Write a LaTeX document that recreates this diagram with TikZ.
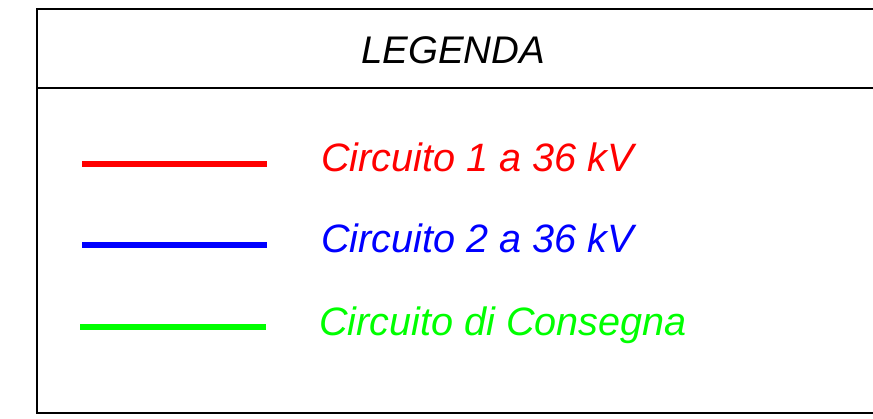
\documentclass[tikz,border=0pt]{standalone}
\usepackage{fontspec}
\setmainfont{Liberation Sans}
\usepackage{tikz}
\usetikzlibrary{calc}

\definecolor{cred}{RGB}{255,0,0}
\definecolor{cblue}{RGB}{0,0,255}
\definecolor{cgreen}{RGB}{0,255,0}

\tikzset{
    legtext/.style={anchor=base west, inner sep=0pt, font=\fontsize{39.6bp}{44bp}\selectfont\itshape},
    legtitle/.style={anchor=base, inner sep=0pt, font=\fontsize{38.5bp}{44bp}\selectfont\itshape},
    legline/.style={line width=6bp}
}

\begin{document}
\begin{tikzpicture}[x=1bp, y=-1bp]
            \useasboundingbox (0,0) rectangle (873,418);
            \draw[black, line width=2bp] (37,9) rectangle (885,413);
            \draw[black, line width=2bp] (37,88) -- (885,88);

            \node[legtitle] (title) at (453,63) {LEGENDA};

            \coordinate (a1) at (82,164);
            \coordinate (a2) at (267,164);
            \coordinate (b1) at (82,245);
            \coordinate (b2) at (267,245);
            \coordinate (c1) at (80,327);
            \coordinate (c2) at (266,327);
            \draw[legline, cred] (a1) -- (a2);
            \draw[legline, cblue] (b1) -- (b2);
            \draw[legline, cgreen] (c1) -- (c2);

            \node[legtext, cred] (circ1) at (321,171) {Circuito 1 a 36 kV};
            \node[legtext, cblue] (circ2) at (321,252) {Circuito 2 a 36 kV};
            \node[legtext, cgreen] (cons) at (319,335) {Circuito di Consegna};
        \end{tikzpicture}
\end{document}
